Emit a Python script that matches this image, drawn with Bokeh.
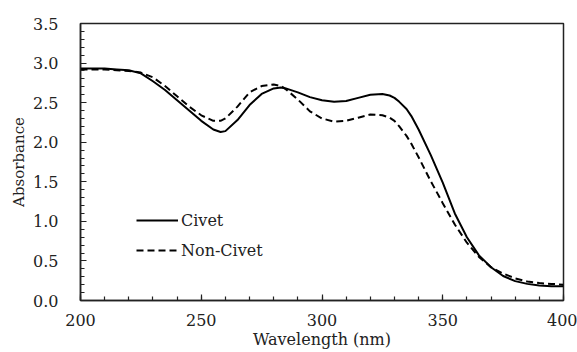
from bokeh.plotting import figure
from bokeh.models import Range1d, SingleIntervalTicker, NumeralTickFormatter, Legend, LegendItem
from bokeh.embed import file_html
from bokeh.resources import INLINE

wavelength = [200, 205, 210, 215, 220, 225, 230, 235, 240, 245, 250, 255, 258, 260, 265, 270,
              275, 280, 283, 285, 290, 295, 300, 305, 310, 315, 320, 325, 328, 330, 332, 335, 337, 340,
              345, 350, 355, 360, 365, 370, 375, 380, 385, 390, 395, 400]
civet = [2.93, 2.93, 2.93, 2.92, 2.91, 2.87, 2.77, 2.66, 2.53, 2.40, 2.27, 2.16, 2.13, 2.14, 2.28, 2.47,
         2.61, 2.68, 2.69, 2.68, 2.63, 2.57, 2.53, 2.51, 2.52, 2.56, 2.60, 2.61, 2.59, 2.56, 2.51, 2.42, 2.33, 2.16,
         1.84, 1.49, 1.10, 0.80, 0.57, 0.42, 0.31, 0.245, 0.21, 0.19, 0.18, 0.18]
non_civet = [2.92, 2.92, 2.92, 2.91, 2.90, 2.88, 2.82, 2.71, 2.58, 2.45, 2.34, 2.27, 2.27, 2.30, 2.45, 2.63,
             2.71, 2.73, 2.71, 2.67, 2.54, 2.39, 2.30, 2.26, 2.27, 2.31, 2.35, 2.34, 2.31, 2.27, 2.20, 2.08, 1.98, 1.81,
             1.51, 1.23, 0.96, 0.73, 0.55, 0.42, 0.34, 0.28, 0.24, 0.22, 0.21, 0.20]

FONT = "DejaVu Serif"

p = figure(width=577, height=352, output_backend="svg", toolbar_location=None,
           x_range=Range1d(200, 400), y_range=Range1d(0, 3.5),
           min_border_left=80, min_border_right=14, min_border_top=23, min_border_bottom=52)
p.frame_width = 483
p.frame_height = 277
p.background_fill_color = "white"
p.border_fill_color = "white"
p.outline_line_color = "#222222"
p.outline_line_width = 1.5
p.grid.visible = False

r1 = p.line(wavelength, civet, line_color="black", line_width=2)
r2 = p.line(wavelength, non_civet, line_color="black", line_width=2, line_dash="7 4")

p.xaxis.ticker = SingleIntervalTicker(interval=50, num_minor_ticks=5)
p.yaxis.ticker = SingleIntervalTicker(interval=0.5, num_minor_ticks=5)
p.yaxis.formatter = NumeralTickFormatter(format="0.0")

for ax in (p.xaxis[0], p.yaxis[0]):
    ax.axis_line_color = "#222222"
    ax.axis_line_width = 1.5
    ax.major_tick_line_color = "#222222"
    ax.minor_tick_line_color = "#222222"
    ax.major_tick_line_width = 1.2
    ax.minor_tick_line_width = 1.2
    ax.major_tick_in = 6
    ax.major_tick_out = 0
    ax.minor_tick_in = 4
    ax.minor_tick_out = 0
    ax.major_label_text_font = FONT
    ax.major_label_text_font_size = "16px"
    ax.major_label_text_color = "#222222"
    ax.axis_label_text_font = FONT
    ax.axis_label_text_font_size = "16px"
    ax.axis_label_text_font_style = "normal"
    ax.axis_label_text_color = "#222222"

p.yaxis.axis_label_text_font_size = "15px"
p.xaxis.axis_label = "Wavelength (nm)"
p.yaxis.axis_label = "Absorbance"
p.xaxis.major_label_standoff = 13
p.xaxis.axis_label_standoff = 1
p.yaxis.major_label_standoff = 22
p.yaxis.axis_label_standoff = 2

legend = Legend(items=[LegendItem(label="Civet", renderers=[r1]),
                       LegendItem(label="Non-Civet", renderers=[r2])],
                location=(56, 40), orientation="vertical",
                background_fill_alpha=0, border_line_alpha=0,
                padding=0, margin=0, spacing=10,
                glyph_width=42, glyph_height=20, label_standoff=3,
                label_text_font=FONT, label_text_font_size="16px", label_text_color="#222222",
                label_height=20)
p.add_layout(legend)

open("out.html", "w").write(file_html(p, INLINE))
